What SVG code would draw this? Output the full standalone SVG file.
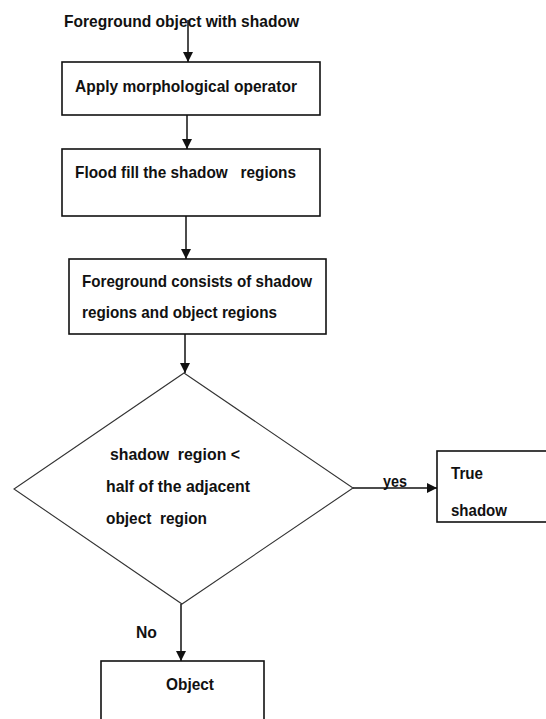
<svg xmlns="http://www.w3.org/2000/svg" width="546" height="719" viewBox="0 0 546 719">
  <style>
    .box { fill: #fff; stroke: #111; stroke-width: 1.6; }
    .dia { fill: #fff; stroke: #333; stroke-width: 1.1; }
    .lbl { font-family: "Liberation Sans", Arial, sans-serif; font-size: 17px; font-weight: bold; fill: #111; white-space: pre; }
    .edge { stroke: #111; stroke-width: 1.5; fill: none; marker-end: url(#head); }
  </style>
  <defs>
    <marker id="head" viewBox="0 0 10 10" refX="10" refY="5" markerWidth="10" markerHeight="10" markerUnits="userSpaceOnUse" orient="auto">
      <path d="M0,0 L10,5 L0,10 Z" fill="#111"/>
    </marker>
  </defs>
  <rect width="546" height="719" fill="#fff"/>

  <g id="start">
    <text class="lbl" x="64" y="27" textLength="235" lengthAdjust="spacingAndGlyphs">Foreground object with shadow</text>
  </g>

  <g id="morph">
    <rect class="box" x="62" y="62" width="258" height="53"/>
    <text class="lbl" x="75" y="92" textLength="222" lengthAdjust="spacingAndGlyphs">Apply morphological operator</text>
  </g>

  <g id="flood">
    <rect class="box" x="62" y="149" width="258" height="67"/>
    <text class="lbl" x="75" y="178" textLength="221" lengthAdjust="spacingAndGlyphs">Flood fill the shadow   regions</text>
  </g>

  <g id="foreground">
    <rect class="box" x="69" y="259" width="257" height="75"/>
    <text class="lbl" x="82" y="287" textLength="230" lengthAdjust="spacingAndGlyphs">Foreground consists of shadow</text>
    <text class="lbl" x="82" y="318" textLength="195" lengthAdjust="spacingAndGlyphs">regions and object regions</text>
  </g>

  <g id="decision">
    <polygon class="dia" points="184,373 353,488 182,604 14,489"/>
    <text class="lbl" x="110" y="460" textLength="130" lengthAdjust="spacingAndGlyphs">shadow  region &lt;</text>
    <text class="lbl" x="106" y="492" textLength="144" lengthAdjust="spacingAndGlyphs">half of the adjacent</text>
    <text class="lbl" x="106" y="524" textLength="101" lengthAdjust="spacingAndGlyphs">object  region</text>
  </g>

  <g id="true-shadow">
    <rect class="box" x="437" y="451" width="115" height="71"/>
    <text class="lbl" x="451" y="479" textLength="32" lengthAdjust="spacingAndGlyphs">True</text>
    <text class="lbl" x="451" y="516" textLength="56" lengthAdjust="spacingAndGlyphs">shadow</text>
  </g>

  <g id="object">
    <rect class="box" x="101" y="661" width="163" height="70"/>
    <text class="lbl" x="166" y="690" textLength="48" lengthAdjust="spacingAndGlyphs">Object</text>
  </g>

  <g id="connectors">
    <line class="edge" x1="188" y1="20" x2="188" y2="62"/>
    <line class="edge" x1="187" y1="115" x2="187" y2="149"/>
    <line class="edge" x1="186" y1="216" x2="186" y2="259"/>
    <line class="edge" x1="185" y1="334" x2="185" y2="373"/>
    <line class="edge" x1="353" y1="488" x2="437" y2="488"/>
    <line class="edge" x1="181" y1="604" x2="181" y2="661"/>
    <text class="lbl" x="383" y="487" textLength="24" lengthAdjust="spacingAndGlyphs">yes</text>
    <text class="lbl" x="136" y="638" textLength="21" lengthAdjust="spacingAndGlyphs">No</text>
  </g>
</svg>
